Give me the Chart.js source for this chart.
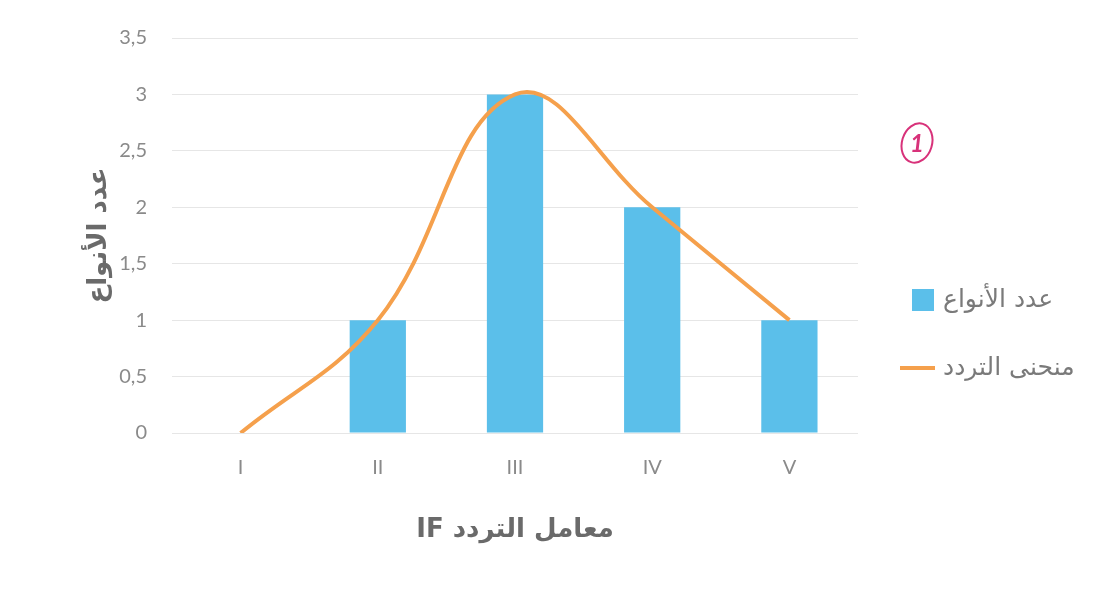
<!DOCTYPE html>
<html>
<head>
<meta charset="utf-8">
<script src="https://cdn.jsdelivr.net/npm/chart.js@4"></script>
<style>
  html, body { margin: 0; padding: 0; background: #ffffff; }
  #wrap { width: 1101px; height: 598px; position: relative; }
</style>
</head>
<body>
<div id="wrap"><canvas id="c" width="1101" height="598"></canvas></div>
<script>
// ---- data ----
const categories = ['I', 'II', 'III', 'IV', 'V'];
const speciesCounts = [0, 1, 3, 2, 1];      // عدد الأنواع (bars)
const frequencyCurve = [0, 1, 3, 2, 1];     // منحنى التردد (smoothed line)
const barLabel = 'عدد الأنواع';
const lineLabel = 'منحنى التردد';
const xTitle = 'معامل التردد IF';
const yTitle = 'عدد الأنواع';
const noteText = '1';

const FONT = "Lato, Carlito, 'DejaVu Sans', sans-serif";
const AR_FONT = "'DejaVu Sans', 'Noto Sans', sans-serif";
const RTL = s => '\u202B' + s + '\u202C';

// custom legend drawn to the right of the plot
const sideLegend = {
  id: 'sideLegend',
  afterDraw(chart) {
    const ctx = chart.ctx;
    const area = chart.chartArea;
    const ds = chart.data.datasets;
    const x0 = area.right + 54;
    const textX = area.right + 85;
    const rows = [area.top + 262, area.top + 330];
    ctx.save();
    ctx.font = "25px " + AR_FONT;
    ctx.textBaseline = 'middle';
    ctx.textAlign = 'left';
    ds.forEach((d, i) => {
      const y = rows[i];
      if (d.type === 'line') {
        ctx.strokeStyle = d.borderColor;
        ctx.lineWidth = 4;
        ctx.beginPath();
        ctx.moveTo(x0 - 12, y);
        ctx.lineTo(x0 + 23, y);
        ctx.stroke();
      } else {
        ctx.fillStyle = d.backgroundColor;
        ctx.fillRect(x0, y - 11, 22, 22);
      }
      ctx.fillStyle = '#7a7a7a';
      ctx.fillText(d.label, textX, y);
    });
    // handwritten circled note
    const nx = area.right + 59, ny = area.top + 105;
    ctx.strokeStyle = '#d8327a';
    ctx.fillStyle = '#d8327a';
    ctx.lineWidth = 2;
    ctx.beginPath();
    ctx.ellipse(nx, ny, 15, 20, 0.3, 0, Math.PI * 2);
    ctx.stroke();
    ctx.font = "italic bold 24px " + FONT;
    ctx.textAlign = 'center';
    ctx.fillText(noteText, nx, ny + 1);
    ctx.restore();
  }
};

new Chart(document.getElementById('c'), {
  data: {
    labels: categories,
    datasets: [
      {
        type: 'bar',
        label: barLabel,
        data: speciesCounts,
        backgroundColor: '#5bbfea',
        categoryPercentage: 1.0,
        barPercentage: 0.41,
        order: 2
      },
      {
        type: 'line',
        label: lineLabel,
        data: frequencyCurve,
        borderColor: '#f5a04c',
        borderWidth: 4,
        pointRadius: 0,
        tension: 0.4,
        fill: false,
        order: 1
      }
    ]
  },
  options: {
    responsive: false,
    animation: false,
    devicePixelRatio: 1,
    layout: { padding: { left: 60, right: 243, top: 38, bottom: 0 } },
    plugins: {
      legend: { display: false },
      tooltip: { enabled: false }
    },
    scales: {
      x: {
        grid: { display: false, drawTicks: false },
        border: { display: false },
        ticks: { color: '#8a8a8a', font: { family: FONT, size: 20 }, padding: 23 },
        title: {
          display: true, text: RTL(xTitle), color: '#6a6a6a',
          font: { family: AR_FONT, size: 26, weight: 'bold' },
          padding: { top: 0, bottom: 52 }
        },
        afterFit(s) { s.height = 165; }
      },
      y: {
        min: 0, max: 3.5,
        grid: { color: '#e6e6e6', lineWidth: 1, drawTicks: false },
        border: { display: false },
        ticks: {
          stepSize: 0.5, padding: 25, color: '#8a8a8a',
          font: { family: FONT, size: 20 },
          callback: v => String(v).replace('.', ',')
        },
        title: {
          display: true, text: RTL(yTitle), color: '#6a6a6a',
          font: { family: AR_FONT, size: 26, weight: 'bold' },
          padding: { top: 24, bottom: 0 }
        },
        afterFit(s) { s.width = 112; }
      }
    }
  },
  plugins: [sideLegend]
});
</script>
</body>
</html>
